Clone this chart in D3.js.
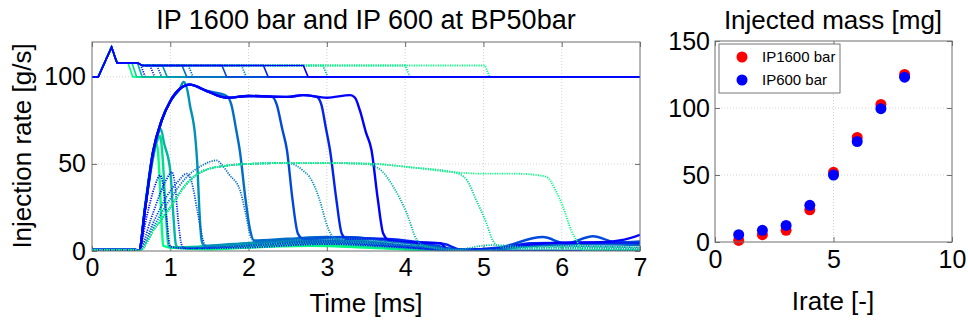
<!DOCTYPE html>
<html><head><meta charset="utf-8">
<script src="https://cdn.jsdelivr.net/npm/d3@7"></script>
<style>
body{margin:0;background:#fff}
svg text{font-family:"Liberation Sans",Arial,Helvetica,sans-serif;fill:#000}
</style></head><body>
<svg id="chart" width="968" height="327"></svg>
<script>
// ---- data ----
const timeTicks  = [0,1,2,3,4,5,6,7];
const rateTicks  = [0,50,100];
const irateTicks = [0,5,10];
const massTicks  = [0,50,100,150];

const irate    = [1,2,3,4,5,6,7,8];
const mass1600 = [1.2,5.5,8.7,24,52,78,102.7,125];
const mass600  = [5.5,8.7,12.4,27.4,50,75,99.5,123];

// command signal (offset by 100) shared start, then end times per shot
const cmdShape   = [[0,100],[0.08,100],[0.25,117],[0.32,108],[0.58,108],[0.64,106.5]];
const cmdEnd1600 = [0.52,0.57,0.64,0.96,1.21,1.72,2.25,2.76];
const cmdEnd600  = [0.68,0.8,0.89,1.29,1.97,3.01,4.06,5.08];

// injection rate, IP 1600 bar (solid), shortest to longest
const rate1600 = [
  [[0,0.6],[0.56,0.6],[0.6,0],[0.68,27],[0.76,52],[0.8,60],[0.83,61],[0.86,45],[0.89,15],[0.91,3],[1.0,2],[1.5,1],[2.0,2],[2.8,3],[3.5,2],[4.2,0.5],[4.8,0],[7,0]],
  [[0,0.6],[0.56,0.6],[0.6,0],[0.68,26],[0.77,52],[0.85,65],[0.87,66],[0.9,55],[0.94,25],[0.97,5],[0.99,2],[1.4,2.5],[2.2,3.5],[3.0,4],[3.8,2],[4.5,0],[7,0]],
  [[0,0.6],[0.56,0.6],[0.6,0],[0.68,25],[0.77,51],[0.85,68],[0.88,70],[0.92,62],[1.0,46],[1.04,20],[1.07,4],[1.1,2],[1.6,3],[2.4,5],[3.2,5],[4.0,2],[4.6,0],[7,0]],
  [[0,0.6],[0.56,0.6],[0.6,0],[0.68,25],[0.78,55],[0.89,75],[1.0,86],[1.12,93],[1.17,97],[1.22,92],[1.25,84],[1.32,65],[1.345,50],[1.37,25],[1.4,6],[1.43,3],[1.8,4],[2.6,6],[3.3,6],[4.0,3],[4.7,0.5],[5.0,0],[7,0]],
  [[0,0.6],[0.56,0.6],[0.6,0],[0.68,25],[0.78,56],[0.89,75],[1.0,86],[1.12,93],[1.25,95.5],[1.46,92],[1.72,89],[1.78,84],[1.84,70],[1.89,57],[1.96,30],[2.02,12],[2.07,6],[2.5,7],[3.0,8],[3.6,7],[4.2,4],[4.6,1],[5.0,0.5],[5.6,3],[6.2,4],[7,3.5]],
  [[0,0.6],[0.56,0.6],[0.6,0],[0.68,25],[0.78,57],[0.89,75],[1.0,86],[1.12,93],[1.25,95.5],[1.46,92],[1.72,88],[2.0,89],[2.3,88.5],[2.36,84],[2.43,70],[2.49,58],[2.56,30],[2.63,10],[2.7,7],[3.2,8],[3.8,6],[4.4,3],[4.7,0.5],[5.2,2],[5.76,8],[6.05,4.3],[6.4,8.5],[6.7,5],[7,5.5]],
  [[0,0.6],[0.56,0.6],[0.6,0],[0.68,25],[0.78,57],[0.89,75],[1.0,86],[1.12,93],[1.25,95.5],[1.46,92],[1.72,88],[2.0,89],[2.5,88.5],[2.7,89.5],[2.87,88.5],[2.93,84],[2.99,70],[3.04,58],[3.12,30],[3.19,10],[3.25,7],[3.7,7],[4.2,5],[4.5,4],[4.7,1],[5.2,1.5],[5.6,4.5],[6.2,4.8],[7,4.5]],
  [[0,0.6],[0.56,0.6],[0.6,0],[0.68,25],[0.78,57],[0.89,75],[1.0,86],[1.12,93],[1.25,95.5],[1.46,92],[1.72,88],[2.0,89],[2.5,88.5],[2.7,89.5],[3.0,88],[3.3,89.5],[3.36,88],[3.42,81],[3.5,68],[3.57,58],[3.65,30],[3.72,10],[3.8,6],[4.0,5],[4.45,4.5],[4.55,0.5],[5.0,0],[5.3,2],[6.0,4.8],[6.5,5],[6.8,6.5],[7,9.3]]
];

// injection rate, IP 600 bar (dotted), shortest to longest
const rate600 = [
  [[0,0.6],[0.56,0.6],[0.6,0],[0.7,20],[0.8,37],[0.87,43.4],[0.9,40],[0.95,20],[1.0,2.5],[1.2,1.5],[2.0,2],[3.0,4],[4.0,2],[4.8,0],[7,0]],
  [[0,0.6],[0.56,0.6],[0.6,0],[0.75,18],[0.87,33],[0.95,41],[1.02,45.3],[1.06,38],[1.1,18],[1.15,3],[1.2,1.5],[2.0,3],[3.0,5],[3.8,3],[4.6,0.5],[7,0]],
  [[0,0.6],[0.56,0.6],[0.6,0],[0.8,18],[0.95,31],[1.1,40],[1.21,44.4],[1.27,40],[1.35,22],[1.42,6],[1.46,2],[2.2,4],[3.0,6],[3.8,4],[4.5,1],[5.0,0],[7,0]],
  [[0,0.6],[0.56,0.6],[0.6,0],[0.8,15],[1.0,30],[1.2,42],[1.4,49],[1.59,52],[1.65,50],[1.75,44],[1.89,35],[1.97,20],[2.03,8],[2.1,5],[2.6,6.5],[3.2,7],[3.9,5],[4.5,1.5],[5.0,0.5],[5.8,3],[7,2]],
  [[0,0.6],[0.56,0.6],[0.6,0],[0.8,13],[1.0,25],[1.21,38.7],[1.42,46],[1.72,49],[2.0,50],[2.5,50.5],[2.61,49],[2.7,46],[2.78,42.5],[2.91,29],[3.0,15],[3.08,8],[3.2,6],[3.8,5],[4.4,2],[4.8,0],[5.4,1.5],[6.2,2],[7,1]],
  [[0,0.6],[0.56,0.6],[0.6,0],[0.8,13],[1.0,25],[1.21,38.7],[1.42,46],[1.72,49],[2.0,50],[2.5,50.5],[3.0,50.5],[3.5,50],[3.59,49],[3.7,46],[3.85,36.8],[4.02,21.7],[4.15,6.3],[4.25,3],[4.6,0.5],[5.1,3.4],[5.5,2.5],[6.3,1.5],[7,1]],
  [[0,0.6],[0.56,0.6],[0.6,0],[0.8,13],[1.0,25],[1.21,38.7],[1.42,46],[1.72,49],[2.0,50],[2.5,50.5],[3.0,50.5],[3.6,50],[4.08,48],[4.6,45.3],[4.7,44],[4.79,40.6],[4.9,30],[5.04,15.8],[5.12,6],[5.21,2.5],[5.3,2],[5.6,1.8],[6.2,2.5],[7,2]],
  [[0,0.6],[0.56,0.6],[0.6,0],[0.8,13],[1.0,25],[1.21,38.7],[1.42,46],[1.72,49],[2.0,50],[2.5,50.5],[3.0,50.5],[3.6,50],[4.08,48],[4.6,45.3],[5.0,44.4],[5.4,44.4],[5.6,44],[5.7,43.5],[5.81,42.5],[5.92,35],[6.02,25],[6.12,12],[6.19,6],[6.27,0.5],[7,0.3]]
];

// ---- drawing ----
const svg = d3.select('#chart');
const winter = t => d3.rgb(0, Math.round(255*t), Math.round(255*(1-0.5*t))).formatHex();
const col1600 = rate1600.map((_,i) => winter(1 - i/7));
const col600  = rate600.map((_,i) => winter(i/7));
const frameColor = '#6e6e6e';
const fmt = d3.format('d');

function frame(g, x, y, xt, yt, xGrid, yGrid, padX, padY) {
  const [xa, xb] = x.range(), [ya, yb] = y.range();
  g.append('g').selectAll('line').data(xGrid).join('line')
    .attr('x1', d=>x(d)).attr('x2', d=>x(d)).attr('y1', ya).attr('y2', yb)
    .attr('stroke', '#d0d0d0').attr('stroke-dasharray', '1,2');
  g.append('g').selectAll('line').data(yGrid).join('line')
    .attr('y1', d=>y(d)).attr('y2', d=>y(d)).attr('x1', xa).attr('x2', xb)
    .attr('stroke', '#d0d0d0').attr('stroke-dasharray', '1,2');

  const style = sel => {
    sel.select('.domain').remove();
    sel.selectAll('.tick line').attr('stroke', frameColor);
    sel.selectAll('text').style('font-size', '25px').attr('fill', '#000');
  };
  g.append('g').attr('transform', `translate(0,${ya})`)
    .call(d3.axisBottom(x).tickValues(xt).tickFormat(fmt).tickSize(-5).tickPadding(padX)).call(style);
  g.append('g').attr('transform', `translate(0,${yb})`)
    .call(d3.axisTop(x).tickValues(xt).tickSize(-5).tickFormat('')).call(style);
  g.append('g').attr('transform', `translate(${xa},0)`)
    .call(d3.axisLeft(y).tickValues(yt).tickFormat(fmt).tickSize(-5).tickPadding(padY)).call(style);
  g.append('g').attr('transform', `translate(${xb},0)`)
    .call(d3.axisRight(y).tickValues(yt).tickSize(-5).tickFormat('')).call(style);
}

function box(g, x, y) {
  const [xa, xb] = x.range(), [ya, yb] = y.range();
  g.append('rect').attr('x', xa).attr('y', yb).attr('width', xb-xa).attr('height', ya-yb)
    .attr('fill', 'none').attr('stroke', frameColor).attr('stroke-width', 1);
}

// left panel
const xL = d3.scaleLinear().domain([0,7]).range([92,640]);
const yL = d3.scaleLinear().domain([0,120]).range([251,42]);
const gL = svg.append('g');
frame(gL, xL, yL, timeTicks, rateTicks, [1,2,3,4,5,6], [50,100], 7, 6);

svg.append('clipPath').attr('id','clipL').append('rect')
  .attr('x', 92).attr('y', 42).attr('width', 548).attr('height', 209);
const plotL = gL.append('g').attr('clip-path', 'url(#clipL)');

const smooth = d3.line().x(d=>xL(d[0])).y(d=>yL(d[1])).curve(d3.curveMonotoneX);
const sharp  = d3.line().x(d=>xL(d[0])).y(d=>yL(d[1]));

function cmdPoints(end) {
  const pts = cmdShape.filter(p => p[0] < end - 0.06);
  const last = cmdShape.find(p => p[0] >= end - 0.06);
  const prev = pts[pts.length-1];
  let lvl = prev[1];
  if (last) lvl = prev[1] + (last[1]-prev[1]) * ((end-0.06) - prev[0]) / (last[0]-prev[0]);
  return pts.concat([[end-0.06, lvl], [end, 100], [7, 100]]);
}

plotL.selectAll('.r1600').data(rate1600).join('path')
  .attr('class','r1600').attr('d', smooth)
  .attr('fill','none').attr('stroke', (d,i)=>col1600[i]).attr('stroke-width', 2.4);

plotL.selectAll('.r600').data(rate600).join('path')
  .attr('class','r600').attr('d', smooth)
  .attr('fill','none').attr('stroke', (d,i)=>col600[i]).attr('stroke-width', 1.8)
  .attr('stroke-dasharray', '1.2,1.2');

plotL.selectAll('.c600').data(cmdEnd600).join('path')
  .attr('class','c600').attr('d', d=>sharp(cmdPoints(d)))
  .attr('fill','none').attr('stroke', (d,i)=>col600[i]).attr('stroke-width', 1.8)
  .attr('stroke-dasharray', '1.2,1.2');

plotL.selectAll('.c1600').data(cmdEnd1600).join('path')
  .attr('class','c1600').attr('d', d=>sharp(cmdPoints(d)))
  .attr('fill','none').attr('stroke', (d,i)=>col1600[i]).attr('stroke-width', 1.6);

box(gL, xL, yL);

gL.append('text').attr('x', 366).attr('y', 29).attr('text-anchor','middle')
  .style('font-size','27px').text('IP 1600 bar and IP 600 at BP50bar');
gL.append('text').attr('x', 366).attr('y', 312).attr('text-anchor','middle')
  .style('font-size','26px').text('Time [ms]');
gL.append('text').attr('transform', 'translate(31,146) rotate(-90)').attr('text-anchor','middle')
  .style('font-size','26px').text('Injection rate [g/s]');

// right panel
const xR = d3.scaleLinear().domain([0,10]).range([715,952]);
const yR = d3.scaleLinear().domain([0,150]).range([242,41]);
const gR = svg.append('g');
frame(gR, xR, yR, irateTicks, massTicks, [5], [50,100], 8, 5);

gR.append('g').selectAll('circle').data(irate).join('circle')
  .attr('cx', d=>xR(d)).attr('cy', (d,i)=>yR(mass1600[i])).attr('r', 5.5).attr('fill', '#ff0000');
gR.append('g').selectAll('circle').data(irate).join('circle')
  .attr('cx', d=>xR(d)).attr('cy', (d,i)=>yR(mass600[i])).attr('r', 5.5).attr('fill', '#0000ff');

box(gR, xR, yR);

const lg = gR.append('g');
lg.append('rect').attr('x', 719).attr('y', 44).attr('width', 121).attr('height', 49)
  .attr('fill', '#fff').attr('stroke', '#777');
const legendItems = [['IP1600 bar', '#ff0000'], ['IP600 bar', '#0000ff']];
lg.selectAll('circle').data(legendItems).join('circle')
  .attr('cx', 742).attr('cy', (d,i)=>57 + i*23).attr('r', 5.5).attr('fill', d=>d[1]);
lg.selectAll('text').data(legendItems).join('text')
  .attr('x', 762).attr('y', (d,i)=>57 + i*23).attr('dy', '0.35em')
  .style('font-size','15px').text(d=>d[0]);

gR.append('text').attr('x', 833).attr('y', 29).attr('text-anchor','middle')
  .style('font-size','26px').text('Injected mass [mg]');
gR.append('text').attr('x', 833).attr('y', 310).attr('text-anchor','middle')
  .style('font-size','26px').text('Irate [-]');
</script>
</body></html>
